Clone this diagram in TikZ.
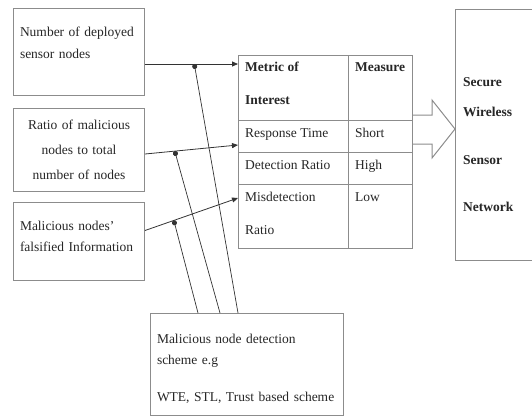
\documentclass[tikz,border=0pt]{standalone}
\usepackage{fontspec}
\setmainfont{Liberation Serif}
\usetikzlibrary{positioning,calc,arrows.meta}

\colorlet{framegray}{black!45}
\colorlet{linegray}{black!80}
\tikzset{
  inbox/.style={draw=framegray, line width=1pt, rectangle, text width=118pt, inner sep=6.5pt, align=left, text=black!85, font=\fontsize{13.5}{22}\selectfont},
  tblbox/.style={draw=framegray, line width=1pt, rectangle, inner sep=0pt},
  grid/.style={draw=framegray, line width=1pt},
  celltext/.style={anchor=base west, inner sep=0pt, align=left, text=black!85, font=\fontsize{13.5}{33}\selectfont},
  cellhead/.style={celltext, font=\fontsize{13.5}{33}\selectfont\bfseries},
  outtext/.style={anchor=base west, inner sep=0pt, text=black!85, font=\fontsize{13.5}{16}\selectfont\bfseries},
  feed/.style={draw=linegray, line width=0.8pt, -{Triangle[length=6pt,width=5pt]}},
  tap/.style={draw=linegray, line width=0.7pt, -{Circle[length=5pt]}},
  blockarrow/.style={draw=framegray, line width=1pt, line join=miter}
}

\begin{document}
\begin{tikzpicture}[x=1pt, y=-1pt]
  \useasboundingbox (0,0) rectangle (532,416);

  % Factors
  \node[inbox, anchor=north west, minimum height=87pt] (deployed) at (13,8) {Number of deployed\\sensor nodes\rule[-19pt]{0pt}{0pt}};
  \node[inbox, align=center, below=12pt of deployed, minimum height=83pt, font=\fontsize{13.5}{25}\selectfont] (malratio) {Ratio of malicious\\nodes to total\\number of nodes};
  \node[inbox, below=10pt of malratio, minimum height=78pt, font=\fontsize{13.5}{21}\selectfont] (falsified) {Malicious nodes'\\falsified Information\rule[-11pt]{0pt}{0pt}};

  % Metric table
  \node[tblbox, anchor=north west, minimum width=174pt, minimum height=193pt] (metric) at (238,55) {};
  \draw[grid] ($(metric.north west)+(110,0)$) -- ($(metric.south west)+(110,0)$);
  \foreach \dy in {65,97,129}
    \draw[grid] ($(metric.north west)+(0,\dy)$) -- ($(metric.north east)+(0,\dy)$);
  \node[cellhead] (hmetric) at ($(metric.north west)+(7,49)$) {Metric of\\Interest};
  \node[cellhead] (hmeasure) at ($(metric.north west)+(117,16)$) {Measure};
  \node[celltext] (rtime) at ($(metric.north west)+(7,82)$) {Response Time};
  \node[celltext] (rshort) at ($(metric.north west)+(117,82)$) {Short};
  \node[celltext] (dratio) at ($(metric.north west)+(7,114)$) {Detection Ratio};
  \node[celltext] (dhigh) at ($(metric.north west)+(117,114)$) {High};
  \node[celltext] (mratio) at ($(metric.north west)+(7,179)$) {Misdetection\\Ratio};
  \node[celltext] (mlow) at ($(metric.north west)+(117,146)$) {Low};

  % Result
  \node[tblbox, anchor=north west, minimum width=80pt, minimum height=251pt] (wsn) at (455,9) {};
  \foreach \word/\dy in {Secure/77, Wireless/107, Sensor/155, Network/202}
    \node[outtext] (wsn-\word) at ($(wsn.north west)+(8,\dy)$) {\word};
  \draw[blockarrow] (metric.east |- 0,115) -- (432,115) -- (432,100) -- (wsn.west |- 0,129)
    -- (432,158) -- (432,144) -- (metric.east |- 0,144);

  % Detection scheme
  \node[inbox, anchor=north west, text width=180pt, minimum height=102pt, font=\fontsize{13.5}{21}\selectfont] (scheme) at (150,313) {\rule{0pt}{18pt}Malicious node detection\\scheme e.g\\[16pt]WTE, STL, Trust based scheme};

  % Connectors
  \coordinate (in1) at ($(metric.north west)+(0,9)$);
  \coordinate (in2) at ($(metric.north west)+(0,90)$);
  \coordinate (in3) at ($(metric.north west)+(0,143)$);
  \draw[feed] (deployed.east |- in1) -- coordinate[pos=0.53] (tap1) (in1);
  \draw[feed] ($(malratio.east)+(0,4)$) -- coordinate[pos=0.32] (tap2) (in2);
  \draw[feed] ($(falsified.east)+(0,-11)$) -- coordinate[pos=0.31] (tap3) (in3);
  \draw[tap] ($(scheme.north west)+(88,0)$) -- (tap1);
  \draw[tap] ($(scheme.north west)+(70,0)$) -- (tap2);
  \draw[tap] ($(scheme.north west)+(48,0)$) -- (tap3);
\end{tikzpicture}
\end{document}
